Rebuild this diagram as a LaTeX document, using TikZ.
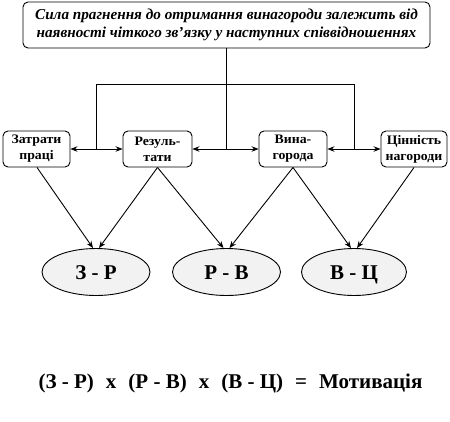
\documentclass[tikz,border=0pt]{standalone}
\usepackage{fontspec}
\setmainfont{Liberation Serif}
\newfontfamily\wideserif[FakeStretch=1.06]{Liberation Serif}
\newcommand{\fgap}{\hspace{12pt}}
\usetikzlibrary{arrows.meta,shapes.geometric}
\begin{document}
\begin{tikzpicture}[x=1pt,y=-1pt,
  line width=0.9pt,
  topbox/.style={draw,rounded corners=5pt,minimum width=407pt,minimum height=46pt,inner sep=0pt,align=center,
    font=\fontsize{15.2}{17.5}\selectfont\bfseries\itshape},
  smallbox/.style={draw,rounded corners=5pt,minimum height=36pt,inner sep=0pt,align=center,
    font=\wideserif\fontsize{13}{16}\selectfont\bfseries},
  pairell/.style={draw,ellipse,fill=gray!10,minimum width=108pt,minimum height=47pt,inner sep=0pt,
    text height=14pt,text depth=0pt,
    font=\fontsize{21}{22}\selectfont\bfseries},
  arr/.style={-{Stealth[length=7pt,width=5.5pt]}},
  darr/.style={{Stealth[length=7pt,width=5.5pt]}-{Stealth[length=7pt,width=5.5pt]}}
]
\useasboundingbox (0,0) rectangle (450,421);
\node[topbox] (top) at (226.5,25) {Сила прагнення до отримання винагороди залежить від\\наявності чіткого зв'язку у наступних співвідношеннях};
\node[smallbox,minimum width=67pt] (zp) at (36.5,149) {Затрати\\праці};
\node[smallbox,minimum width=69pt] (rez) at (157.5,149) {Резуль-\\тати};
\node[smallbox,minimum width=68pt] (vyn) at (293,149) {Вина-\\города};
\node[smallbox,minimum width=66pt] (tsin) at (414,149) {Цінність\\нагороди};
\node[pairell] (e1) at (96,272) {З - Р};
\node[pairell] (e2) at (226.5,272) {Р - В};
\node[pairell,minimum width=105pt] (e3) at (354,272) {В - Ц};
\node[font=\fontsize{21}{22}\selectfont\bfseries] (formula) at (230.5,383) {(З - Р)\fgap x\fgap (Р - В)\fgap x\fgap (В - Ц)\fgap =\fgap Мотивація};
% tree
\coordinate (h0) at (226,84);
\coordinate (h1) at (96,84);
\coordinate (h3) at (354,84);
\coordinate (j1) at (96,149);
\coordinate (j2) at (226,149);
\coordinate (j3) at (354,149);
\draw (top.south -| h0) -- (h0);
\draw (h1) -- (h3);
\draw (h1) -- (j1);
\draw (h0) -- (j2);
\draw (h3) -- (j3);
\draw[darr] (zp.east) -- (rez.west);
\draw[darr] (rez.east) -- (vyn.west);
\draw[darr] (vyn.east) -- (tsin.west);
% to ellipses
\draw[arr] ([xshift=0.5pt]zp.south) -- ([xshift=-3pt]e1.north);
\draw[arr] (rez.south) -- ([xshift=3pt]e1.north);
\draw[arr] (rez.south) -- ([xshift=-3pt]e2.north);
\draw[arr] (vyn.south) -- ([xshift=3pt]e2.north);
\draw[arr] (vyn.south) -- ([xshift=-3pt]e3.north);
\draw[arr] (tsin.south) -- ([xshift=3pt]e3.north);
\end{tikzpicture}
\end{document}
